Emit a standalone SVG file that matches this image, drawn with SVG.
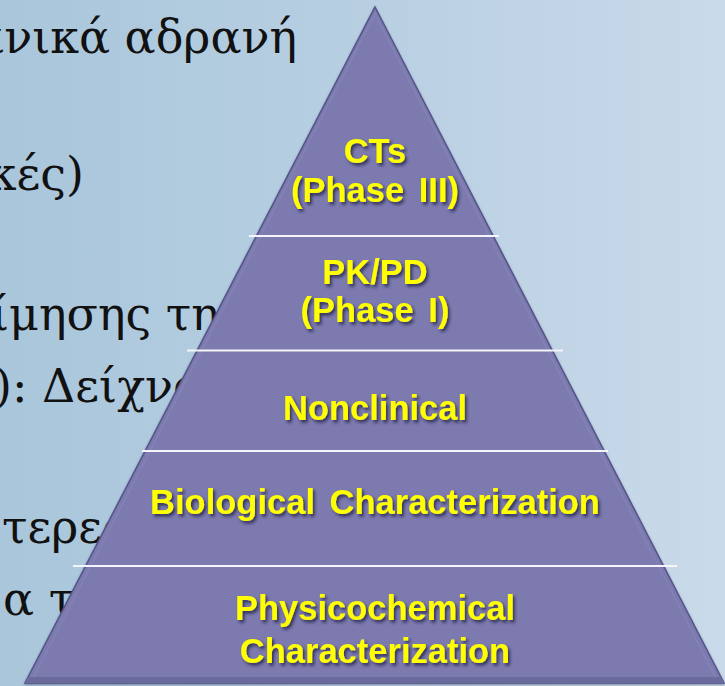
<svg xmlns="http://www.w3.org/2000/svg" width="725" height="686" viewBox="0 0 725 686">
  <defs>
    <linearGradient id="bg" x1="0" y1="0" x2="1" y2="0">
      <stop offset="0" stop-color="#a9c6db"/>
      <stop offset="0.5" stop-color="#b8cfe2"/>
      <stop offset="1" stop-color="#c9daea"/>
    </linearGradient>
    <filter id="shadow" x="-10%" y="-30%" width="120%" height="160%">
      <feDropShadow dx="2" dy="2.5" stdDeviation="1.6" flood-color="#1e1e3c" flood-opacity="0.75"/>
    </filter>
    <filter id="pshadow" x="-5%" y="-5%" width="110%" height="110%">
      <feDropShadow dx="0" dy="1" stdDeviation="1.2" flood-color="#333355" flood-opacity="0.5"/>
    </filter>
  </defs>
  <style>
    .greek { font-family: "DejaVu Serif", "Liberation Serif", serif; font-size: 46px; fill: #111111; }
    .lbl { font-family: "Liberation Sans", Arial, sans-serif; font-weight: bold; font-size: 34.5px; word-spacing: 5px; fill: #ffff00; text-anchor: middle; filter: url(#shadow); }
    .div { stroke: #f4f4fa; stroke-width: 2; }
  </style>

  <rect x="0" y="0" width="725" height="686" fill="url(#bg)"/>

  <g id="background-text">
    <text class="greek" x="297" y="53" text-anchor="end">ανικά αδρανή</text>
    <text class="greek" x="84" y="190" text-anchor="end">κές)</text>
    <text class="greek" x="-9" y="330">ίμησης της</text>
    <text class="greek" x="-6" y="402">): Δείχνο</text>
    <text class="greek" x="2" y="543">τερεο</text>
    <text class="greek" x="3" y="615">α τη</text>
  </g>

  <g id="pyramid">
    <polygon points="375,7 724,683 25,683" fill="#7b7aae" stroke="#55548a" stroke-width="1.5" filter="url(#pshadow)"/>
    <polygon points="375,14 716,678 33,678" fill="none" stroke="#8786b8" stroke-width="2" opacity="0.6"/>
    <polygon points="28,677 721,677 724,683 25,683" fill="#6b6a9c"/>
  </g>

  <g id="connectors">
    <line class="div" x1="249" y1="236" x2="499" y2="236"/>
    <line class="div" x1="187" y1="350.5" x2="563" y2="350.5"/>
    <line class="div" x1="142" y1="451" x2="608" y2="451"/>
    <line class="div" x1="73" y1="566" x2="677" y2="566"/>
  </g>

  <g id="layer-cts">
    <text class="lbl" x="375" y="163">CTs</text>
    <text class="lbl" x="375" y="202">(Phase III)</text>
  </g>
  <g id="layer-pkpd">
    <text class="lbl" x="375" y="284">PK/PD</text>
    <text class="lbl" x="375" y="322">(Phase I)</text>
  </g>
  <g id="layer-nonclinical">
    <text class="lbl" x="375" y="420">Nonclinical</text>
  </g>
  <g id="layer-biological">
    <text class="lbl" x="375" y="514">Biological Characterization</text>
  </g>
  <g id="layer-physicochemical">
    <text class="lbl" x="375" y="620">Physicochemical</text>
    <text class="lbl" x="375" y="663">Characterization</text>
  </g>
</svg>
